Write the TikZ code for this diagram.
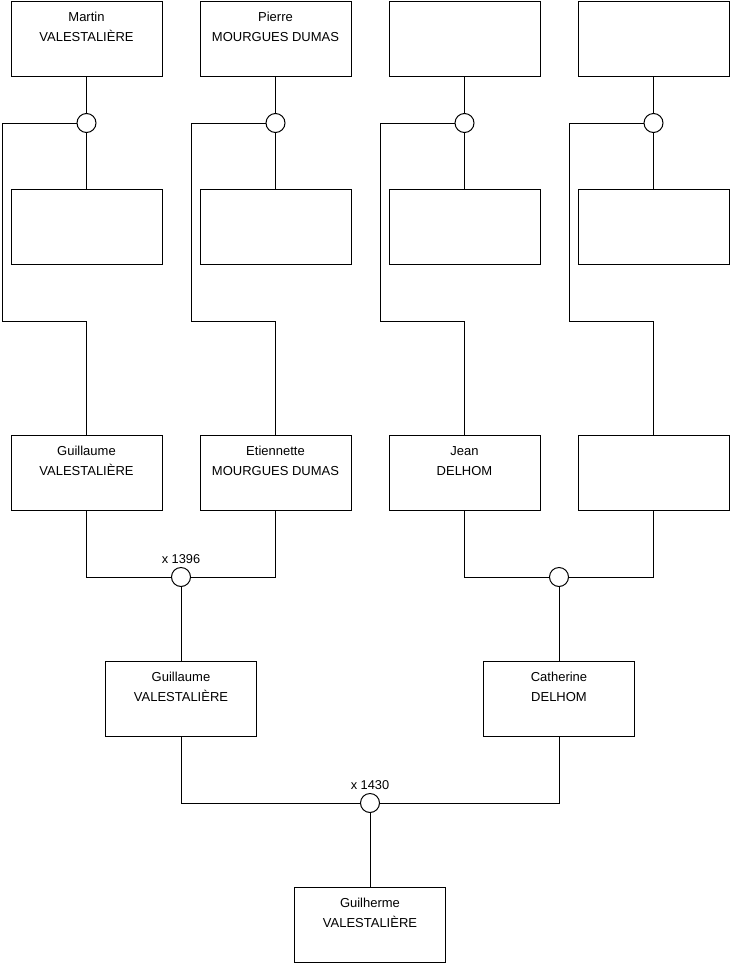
\documentclass[tikz,border=0pt]{standalone}
\usepackage{fontspec}
\setmainfont{Liberation Sans}
\usetikzlibrary{positioning}

\begin{document}
\begin{tikzpicture}[
    x=1pt, y=-1pt,
    person/.style={rectangle, draw=black, line width=1pt, minimum width=151pt, minimum height=75pt, inner sep=0pt},
    who/.style={label={[align=center, anchor=north, inner sep=0pt, yshift=-11pt, font=\fontsize{13}{20}\selectfont]north:#1}},
    union/.style={circle, draw=black, line width=1pt, minimum size=19pt, inner sep=0pt, fill=white},
    year/.style={label={[inner sep=3pt, font=\fontsize{12.8}{15}\selectfont]above:#1}},
    link/.style={line width=1pt}
]
\useasboundingbox (0,0) rectangle (740,975);

% Top row
\node[person, who={Martin\\VALESTALIÈRE}] (martin) at (86.5,38.5) {};
\node[person, who={Pierre\\MOURGUES DUMAS}] (pierre) at (275.5,38.5) {};
\node[person] (top3) at (464.5,38.5) {};
\node[person] (top4) at (653.5,38.5) {};

% Second row
\node[person] (spouse1) at (86.5,227) {};
\node[person] (spouse2) at (275.5,227) {};
\node[person] (spouse3) at (464.5,227) {};
\node[person] (spouse4) at (653.5,227) {};

% Third row
\node[person, who={Guillaume\\VALESTALIÈRE}] (guillaume1) at (86.5,473) {};
\node[person, who={Etiennette\\MOURGUES DUMAS}] (etiennette) at (275.5,473) {};
\node[person, who={Jean\\DELHOM}] (jean) at (464.5,473) {};
\node[person] (blank4) at (653.5,473) {};

% Fourth row
\node[person, who={Guillaume\\VALESTALIÈRE}] (guillaume2) at (181,699) {};
\node[person, who={Catherine\\DELHOM}] (catherine) at (559,699) {};

% Bottom
\node[person, who={Guilherme\\VALESTALIÈRE}] (guilherme) at (370,925) {};

% Unions
\node[union] (u1) at (86.5,123) {};
\node[union] (u2) at (275.5,123) {};
\node[union] (u3) at (464.5,123) {};
\node[union] (u4) at (653.5,123) {};
\node[union, year={x 1396}] (u5) at (181,577) {};
\node[union] (u6) at (559,577) {};
\node[union, year={x 1430}] (u7) at (370,803) {};

% Bends
\coordinate (k1) at (2,321);
\coordinate (k2) at (191,321);
\coordinate (k3) at (380,321);
\coordinate (k4) at (569,321);

% Couples
\draw[link] (martin) -- (u1) -- (spouse1);
\draw[link] (pierre) -- (u2) -- (spouse2);
\draw[link] (top3) -- (u3) -- (spouse3);
\draw[link] (top4) -- (u4) -- (spouse4);

% Children
\draw[link] (u1) -| (k1) -| (guillaume1);
\draw[link] (u2) -| (k2) -| (etiennette);
\draw[link] (u3) -| (k3) -| (jean);
\draw[link] (u4) -| (k4) -| (blank4);

\draw[link] (guillaume1) |- (u5) -| (etiennette);
\draw[link] (jean) |- (u6) -| (blank4);
\draw[link] (u5) -- (guillaume2);
\draw[link] (u6) -- (catherine);

\draw[link] (guillaume2) |- (u7) -| (catherine);
\draw[link] (u7) -- (guilherme);

\end{tikzpicture}
\end{document}
